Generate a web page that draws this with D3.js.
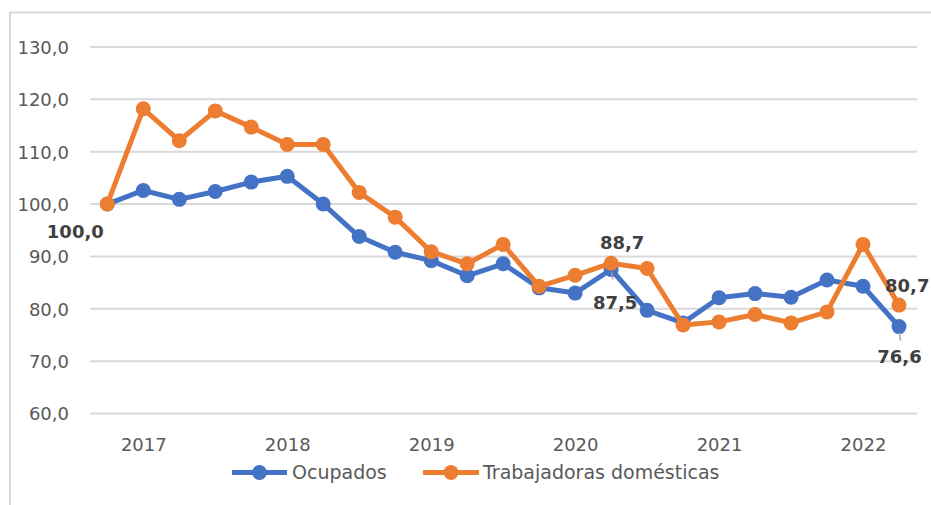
<!DOCTYPE html>
<html>
<head>
<meta charset="utf-8">
<script src="https://cdn.jsdelivr.net/npm/d3@7/dist/d3.min.js"></script>
<style>
  html, body { margin: 0; padding: 0; background: #fff; }
  svg { display: block; }
  text { font-family: "DejaVu Sans", Verdana, sans-serif; }
</style>
</head>
<body>
<svg id="chart" width="931" height="505"></svg>
<script>
// Quarterly index values (first quarter = 100)
const categories = ["2016T4","2017T1","2017T2","2017T3","2017T4","2018T1","2018T2","2018T3","2018T4",
  "2019T1","2019T2","2019T3","2019T4","2020T1","2020T2","2020T3","2020T4",
  "2021T1","2021T2","2021T3","2021T4","2022T1","2022T2"];
const ocupados = [100.0, 102.6, 100.9, 102.4, 104.2, 105.3, 100.0, 93.8, 90.8, 89.2, 86.3, 88.6,
  84.0, 83.0, 87.5, 79.7, 77.3, 82.1, 82.9, 82.2, 85.5, 84.3, 76.6];
const trabajadoras = [100.0, 118.2, 112.1, 117.8, 114.7, 111.4, 111.4, 102.2, 97.5, 90.9, 88.6, 92.3,
  84.3, 86.4, 88.7, 87.7, 76.9, 77.5, 78.9, 77.3, 79.4, 92.3, 80.7];
const yTicks = [60, 70, 80, 90, 100, 110, 120, 130];
const yearLabels = [
  {idx: 1, label: "2017"}, {idx: 5, label: "2018"}, {idx: 9, label: "2019"},
  {idx: 13, label: "2020"}, {idx: 17, label: "2021"}, {idx: 21, label: "2022"}
];
const seriesNames = ["Ocupados", "Trabajadoras domésticas"];
const colors = ["#4472C4", "#ED7D31"];

const svg = d3.select("#chart");
const fmt = v => d3.format(".1f")(v).replace(".", ",");

// frame
svg.append("rect").attr("x", 10).attr("y", 12.5).attr("width", 960).attr("height", 520)
  .attr("fill", "none").attr("stroke", "#d9d9d9").attr("stroke-width", 2);

const x = d3.scalePoint().domain(d3.range(categories.length)).range([107.3, 899]);
const y = d3.scaleLinear().domain([60, 130]).range([413.5, 47]);

// gridlines
svg.append("g").selectAll("line").data(yTicks).join("line")
  .attr("x1", 90).attr("x2", 917)
  .attr("y1", d => y(d)).attr("y2", d => y(d))
  .attr("stroke", "#d9d9d9").attr("stroke-width", 2);

// y axis labels
const yAxis = d3.axisLeft(y).tickValues(yTicks).tickFormat(fmt).tickSize(0).tickPadding(0);
const gy = svg.append("g").attr("transform", "translate(69,0)").call(yAxis);
gy.select(".domain").remove();
gy.selectAll("text").attr("font-size", 18).attr("fill", "#595959")
  .attr("font-family", "DejaVu Sans, sans-serif").attr("dy", "0.36em");

// x axis year labels
const xAxis = d3.axisBottom(x).tickValues(yearLabels.map(d => d.idx))
  .tickFormat(i => yearLabels.find(d => d.idx === i).label).tickSize(0).tickPadding(0);
const gx = svg.append("g").attr("transform", "translate(0,445)").call(xAxis);
gx.select(".domain").remove();
gx.selectAll("text").attr("font-size", 18).attr("fill", "#595959")
  .attr("font-family", "DejaVu Sans, sans-serif").attr("dy", "0.36em");

// series
const allSeries = [ocupados, trabajadoras];
const line = d3.line().x((d, i) => x(i)).y(d => y(d));
allSeries.forEach((s, k) => {
  const g = svg.append("g");
  g.append("path").datum(s).attr("d", line).attr("fill", "none")
    .attr("stroke", colors[k]).attr("stroke-width", 5).attr("stroke-linejoin", "round");
  g.selectAll("circle").data(s).join("circle")
    .attr("cx", (d, i) => x(i)).attr("cy", d => y(d)).attr("r", 7.5).attr("fill", colors[k]);
});

// leader lines
const leaders = [
  {i: 14, v: ocupados[14], y1off: 3, y2off: 10},
  {i: 22, v: ocupados[22], y1off: 6, y2off: 14}
];
svg.append("g").selectAll("line").data(leaders).join("line")
  .attr("x1", d => x(d.i) + 0.5).attr("x2", d => x(d.i) + 1.5)
  .attr("y1", d => y(d.v) + d.y1off).attr("y2", d => y(d.v) + d.y2off)
  .attr("stroke", "#a6a6a6").attr("stroke-width", 1.5);

// data labels
const labels = [
  {i: 0, v: ocupados[0], dx: -32, dy: 27, anchor: "middle"},
  {i: 14, v: trabajadoras[14], dx: 11, dy: -21, anchor: "middle"},
  {i: 14, v: ocupados[14], dx: 4, dy: 33, anchor: "middle"},
  {i: 22, v: trabajadoras[22], dx: -14, dy: -20, anchor: "start"},
  {i: 22, v: ocupados[22], dx: 0.5, dy: 30, anchor: "middle"}
];
svg.append("g").selectAll("text").data(labels).join("text")
  .attr("x", d => x(d.i) + d.dx).attr("y", d => y(d.v) + d.dy)
  .attr("text-anchor", d => d.anchor).attr("dy", "0.36em")
  .attr("font-size", 18).attr("font-weight", "bold").attr("fill", "#404040")
  .text(d => fmt(d.v));

// legend
const legendItems = [
  {name: seriesNames[0], color: colors[0], x1: 232, x2: 287, tx: 292},
  {name: seriesNames[1], color: colors[1], x1: 423, x2: 479, tx: 483}
];
const lg = svg.append("g");
legendItems.forEach(d => {
  lg.append("line").attr("x1", d.x1).attr("x2", d.x2).attr("y1", 472.5).attr("y2", 472.5)
    .attr("stroke", d.color).attr("stroke-width", 5);
  lg.append("circle").attr("cx", (d.x1 + d.x2) / 2).attr("cy", 472.5).attr("r", 7.5).attr("fill", d.color);
  lg.append("text").attr("x", d.tx).attr("y", 472.5).attr("dy", "0.36em")
    .attr("font-size", 19).attr("fill", "#595959").text(d.name);
});
</script>
</body>
</html>
